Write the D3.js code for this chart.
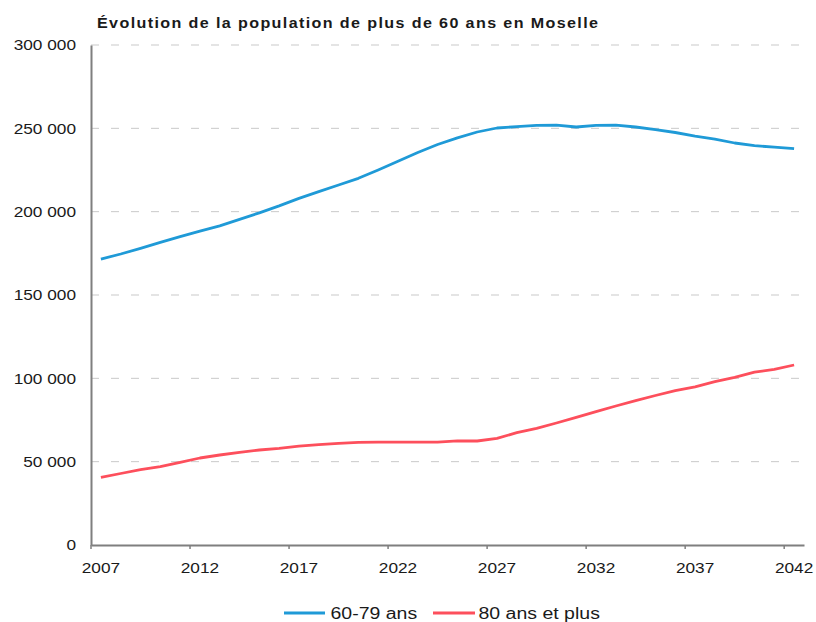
<!DOCTYPE html>
<html>
<head>
<meta charset="utf-8">
<script src="https://cdn.jsdelivr.net/npm/d3@7"></script>
<style>
  body { margin: 0; background: #fff; }
  svg { display: block; }
  text { font-family: "Liberation Sans", Arial, Helvetica, sans-serif; fill: #1a1a1a; }
</style>
</head>
<body>
<svg id="chart" width="816" height="622"></svg>
<script>
// Population aged 60+ in Moselle, observed and projected
const years = [2007, 2008, 2009, 2010, 2011, 2012, 2013, 2014, 2015, 2016,
               2017, 2018, 2019, 2020, 2021, 2022, 2023, 2024, 2025, 2026,
               2027, 2028, 2029, 2030, 2031, 2032, 2033, 2034, 2035, 2036,
               2037, 2038, 2039, 2040, 2041, 2042];

const age60to79 = [171500, 174600, 178000, 181600, 185000, 188300, 191500, 195400, 199300, 203500,
                   208000, 212000, 216000, 220000, 225000, 230300, 235500, 240300, 244300, 247800,
                   250200, 251000, 251800, 251900, 250800, 251800, 251900, 250800, 249200, 247500,
                   245300, 243500, 241200, 239600, 238700, 237800];

const age80plus = [40600, 42900, 45200, 47000, 49600, 52200, 54000, 55600, 57000, 58000,
                   59300, 60200, 61000, 61600, 61700, 61700, 61700, 61700, 62500, 62400,
                   64000, 67400, 70000, 73200, 76600, 80000, 83400, 86600, 89700, 92600,
                   94900, 98000, 100600, 103700, 105400, 108000];

const yTicks = [0, 50000, 100000, 150000, 200000, 250000, 300000];
const xLabelYears = [2007, 2012, 2017, 2022, 2027, 2032, 2037, 2042];

const seriesNames = ["60-79 ans", "80 ans et plus"];
const seriesColors = ["#1f9ad7", "#fd4f5c"];

const title = "Évolution de la population de plus de 60 ans en Moselle";

const W = 816, H = 622;
const margin = { top: 45, right: 12, bottom: 77, left: 91 };
const STRETCH = 1.15; // wide rendering of every label

const svg = d3.select("#chart");

const x = d3.scaleBand().domain(years).range([margin.left, W - margin.right]);
const y = d3.scaleLinear().domain([0, 300000]).range([H - margin.bottom, margin.top]);

const fr = d3.formatLocale({ decimal: ",", thousands: "\u00a0", grouping: [3], currency: ["", " €"] });
const fmt = fr.format(",.0f");

// dashed horizontal gridlines
svg.append("g")
  .selectAll("line")
  .data(yTicks.filter(d => d > 0))
  .join("line")
  .attr("x1", margin.left).attr("x2", W - margin.right)
  .attr("y1", d => y(d)).attr("y2", d => y(d))
  .attr("stroke", "#c9c9c9")
  .attr("stroke-width", 1)
  .attr("stroke-dasharray", "8,12");

// y axis
const yAxis = svg.append("g")
  .attr("transform", `translate(${margin.left},0)`)
  .call(d3.axisLeft(y).tickValues(yTicks).tickSize(0).tickPadding(15).tickFormat(fmt));
yAxis.select(".domain").attr("stroke", "#7f7f7f").attr("stroke-width", 2);
yAxis.selectAll(".tick text")
  .attr("font-size", 15)
  .attr("font-family", "Liberation Sans, Arial, sans-serif")
  .attr("fill", "#1a1a1a")
  .attr("transform", `translate(-15,0) scale(${STRETCH},1)`)
  .attr("x", 0);

// x axis: labels centred on categories, tick marks on category edges
const xAxis = svg.append("g")
  .attr("transform", `translate(0,${y(0)})`)
  .call(d3.axisBottom(x).tickValues(xLabelYears).tickSize(0).tickPadding(17));
xAxis.select(".domain").attr("stroke", "#7f7f7f").attr("stroke-width", 2);
xAxis.selectAll(".tick text")
  .attr("font-size", 15)
  .attr("font-family", "Liberation Sans, Arial, sans-serif")
  .attr("fill", "#1a1a1a")
  .attr("transform", `scale(${STRETCH},1)`);

xAxis.append("g")
  .selectAll("line")
  .data(xLabelYears)
  .join("line")
  .attr("x1", d => x(d)).attr("x2", d => x(d))
  .attr("y1", 0).attr("y2", 4)
  .attr("stroke", "#7f7f7f")
  .attr("stroke-width", 1.5);

// series lines
const series = [age60to79, age80plus];
const line = d3.line()
  .x((d, i) => x(years[i]) + x.bandwidth() / 2)
  .y(d => y(d));

svg.append("g")
  .selectAll("path")
  .data(series)
  .join("path")
  .attr("d", d => line(d))
  .attr("fill", "none")
  .attr("stroke", (d, i) => seriesColors[i])
  .attr("stroke-width", 2.8)
  .attr("stroke-linejoin", "round")
  .attr("stroke-linecap", "butt");

// title
svg.append("text")
  .attr("transform", `translate(97,28) scale(${STRETCH},1)`)
  .attr("font-size", 14)
  .attr("font-weight", "bold")
  .attr("letter-spacing", 1.2)
  .attr("fill", "#111")
  .text(title);

// legend
const legendY = 613;
const legendItems = [
  { x1: 284, x2: 325, tx: 330.5 },
  { x1: 433, x2: 475, tx: 478.5 }
];
const lg = svg.append("g");
legendItems.forEach((p, i) => {
  lg.append("line")
    .attr("x1", p.x1).attr("x2", p.x2)
    .attr("y1", legendY).attr("y2", legendY)
    .attr("stroke", seriesColors[i])
    .attr("stroke-width", 2.8);
  lg.append("text")
    .attr("transform", `translate(${p.tx},${legendY + 5.6}) scale(${STRETCH * 1.06},1)`)
    .attr("font-size", 16)
    .attr("fill", "#1a1a1a")
    .text(seriesNames[i]);
});
</script>
</body>
</html>
